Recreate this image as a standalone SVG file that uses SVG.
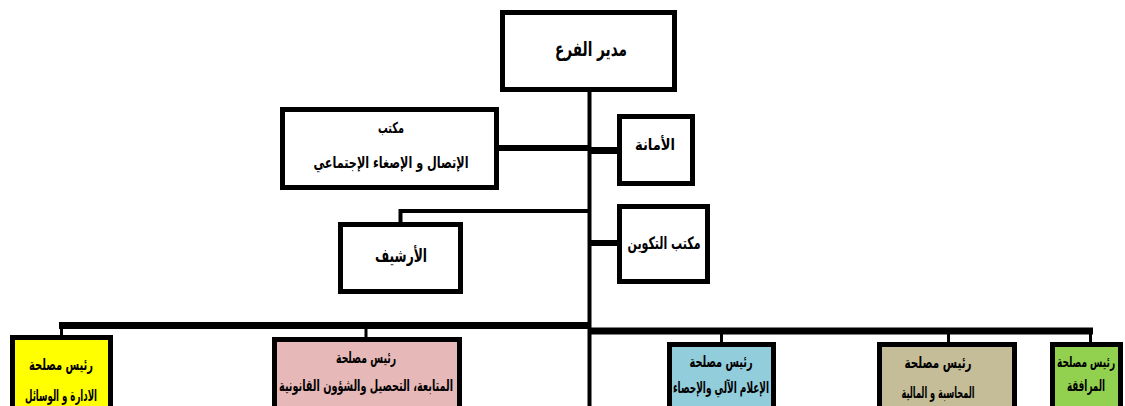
<svg xmlns="http://www.w3.org/2000/svg" width="1125" height="406" viewBox="0 0 1125 406">
<style>
.box{stroke:#000;stroke-width:5;}
.w{fill:#fff;}
.t{font-family:"DejaVu Sans","Liberation Sans",sans-serif;font-weight:bold;fill:#000;text-anchor:middle;dominant-baseline:central;}
.c{stroke:#000;fill:none;stroke-linecap:butt;}
</style>
<rect width="1125" height="406" fill="#fff"/>
<g id="connectors">
<line class="c" x1="589.5" y1="90" x2="589.5" y2="406" stroke-width="4"/>
<line class="c" x1="497" y1="148" x2="589" y2="148" stroke-width="6"/>
<line class="c" x1="589" y1="150.5" x2="619" y2="150.5" stroke-width="7"/>
<polyline class="c" points="400.5,223 400.5,211 589,211" stroke-width="4"/>
<line class="c" x1="589" y1="243" x2="619" y2="243" stroke-width="6"/>
<line class="c" x1="59" y1="325.5" x2="591" y2="325.5" stroke-width="7"/>
<line class="c" x1="588" y1="331" x2="1093" y2="331" stroke-width="7"/>
<line class="c" x1="61.5" y1="325" x2="61.5" y2="337" stroke-width="3"/>
<line class="c" x1="366" y1="325" x2="366" y2="339" stroke-width="3"/>
<line class="c" x1="721.5" y1="331" x2="721.5" y2="344" stroke-width="3"/>
<line class="c" x1="948.5" y1="331" x2="948.5" y2="344" stroke-width="3"/>
<line class="c" x1="1090.5" y1="328" x2="1090.5" y2="344" stroke-width="3"/>
</g>
<g id="director">
<rect class="box w" x="502.5" y="12.5" width="172" height="77"/>
<text class="t" x="591" y="49" font-size="20" textLength="72" lengthAdjust="spacingAndGlyphs">مدير الفرع</text>
</g>
<g id="etisal">
<rect class="box w" x="282.5" y="109.5" width="214" height="78"/>
<text class="t" x="391" y="128" font-size="15" textLength="26" lengthAdjust="spacingAndGlyphs">مكتب</text>
<text class="t" x="391" y="162" font-size="16" textLength="155" lengthAdjust="spacingAndGlyphs">الإتصال و الإصغاء الإجتماعي</text>
</g>
<g id="amana">
<rect class="box w" x="619.5" y="116.5" width="73" height="67"/>
<text class="t" x="655" y="144" font-size="16" textLength="40" lengthAdjust="spacingAndGlyphs">الأمانة</text>
</g>
<g id="archive">
<rect class="box w" x="340.5" y="224.5" width="120" height="67"/>
<text class="t" x="401" y="255" font-size="18" textLength="52" lengthAdjust="spacingAndGlyphs">الأرشيف</text>
</g>
<g id="takwin">
<rect class="box w" x="619.5" y="206.5" width="88" height="75"/>
<text class="t" x="664" y="243" font-size="17" textLength="73" lengthAdjust="spacingAndGlyphs">مكتب التكوين</text>
</g>
<g id="admin">
<rect class="box" fill="#ffff00" x="12.5" y="337.5" width="98" height="100"/>
<text class="t" x="61" y="364" font-size="16" textLength="64" lengthAdjust="spacingAndGlyphs">رئيس مصلحة</text>
<text class="t" x="61" y="395" font-size="16" textLength="72" lengthAdjust="spacingAndGlyphs">الادارة و الوسائل</text>
</g>
<g id="followup">
<rect class="box" fill="#e6b8b7" x="274.5" y="339.5" width="185" height="100"/>
<text class="t" x="366" y="357" font-size="16" textLength="60" lengthAdjust="spacingAndGlyphs">رئيس مصلحة</text>
<text class="t" x="366" y="385" font-size="16" textLength="174" lengthAdjust="spacingAndGlyphs">المتابعة، التحصيل والشؤون القانونية</text>
</g>
<g id="it">
<rect class="box" fill="#92cddc" x="669.5" y="344.5" width="104" height="100"/>
<text class="t" x="721" y="361" font-size="16" textLength="63" lengthAdjust="spacingAndGlyphs">رئيس مصلحة</text>
<text class="t" x="721" y="387" font-size="16" textLength="96" lengthAdjust="spacingAndGlyphs">الإعلام الآلي والإحصاء</text>
</g>
<g id="finance">
<rect class="box" fill="#c4bd97" x="879.5" y="344.5" width="135" height="100"/>
<text class="t" x="938" y="362" font-size="16" textLength="67" lengthAdjust="spacingAndGlyphs">رئيس مصلحة</text>
<text class="t" x="938" y="392" font-size="16" textLength="73" lengthAdjust="spacingAndGlyphs">المحاسبة و المالية</text>
</g>
<g id="support">
<rect class="box" fill="#92d050" x="1052.5" y="344.5" width="68" height="100"/>
<text class="t" font-size="15" transform="translate(1086,362) scale(0.6,1)">رئيس مصلحة</text>
<text class="t" font-size="16" transform="translate(1086,385) scale(0.55,1)">المرافقة</text>
</g>
</svg>
